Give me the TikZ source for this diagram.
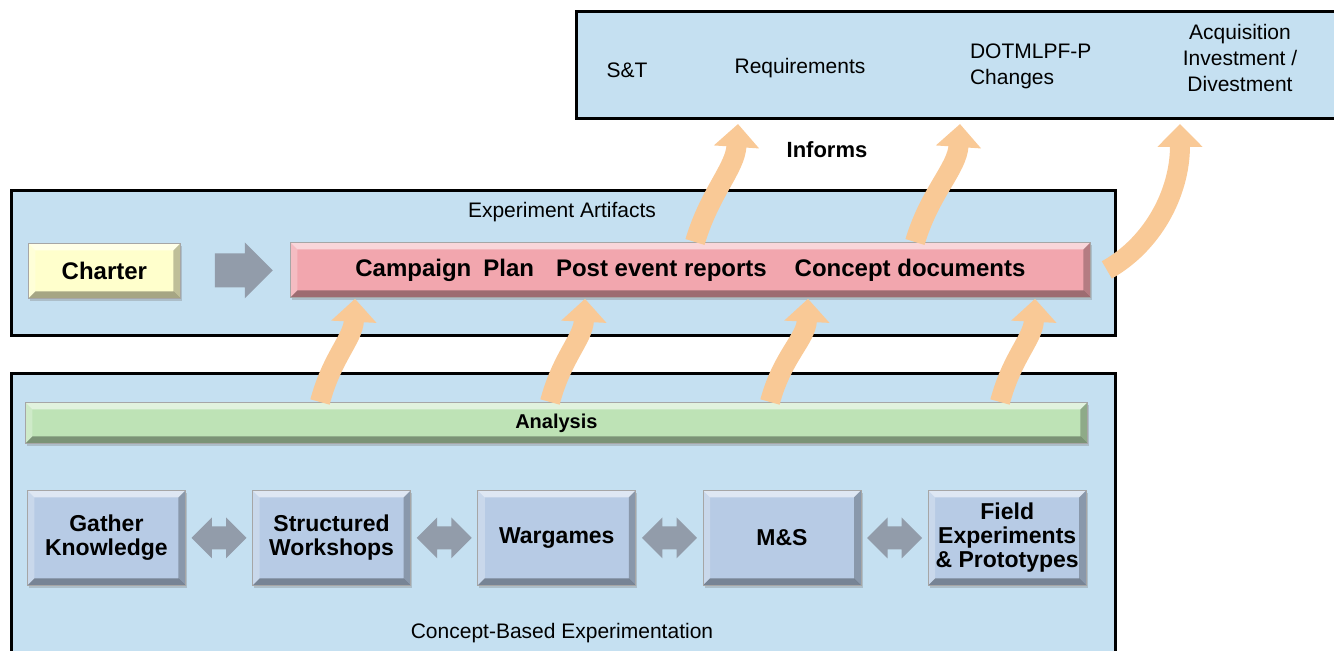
\documentclass[tikz,border=0pt]{standalone}
\usepackage{fontspec}
\setmainfont{Liberation Sans}
\usetikzlibrary{arrows.meta,calc,shapes.arrows,shadows}

\definecolor{skyfill}{RGB}{197,224,241}
\definecolor{procfill}{RGB}{183,203,229}
\definecolor{planfill}{RGB}{242,166,174}
\definecolor{analysisfill}{RGB}{190,227,182}
\definecolor{charterfill}{RGB}{255,255,204}
\definecolor{flowgray}{RGB}{146,156,170}
\definecolor{informfill}{RGB}{249,201,150}

\tikzset{
  outerbox/.style={draw=black, line width=1.5pt, fill=skyfill, inner sep=0pt, anchor=north west},
  bevel/.style={path picture={
    \path (path picture bounding box.north west) coordinate (bvnw)
          (path picture bounding box.north east) coordinate (bvne)
          (path picture bounding box.south west) coordinate (bvsw)
          (path picture bounding box.south east) coordinate (bvse);
    \fill[white, opacity=.55] (bvnw) -- (bvne) -- ([shift={(-#1,-#1)}]bvne) -- ([shift={(#1,-#1)}]bvnw) -- cycle;
    \fill[white, opacity=.25] (bvnw) -- (bvsw) -- ([shift={(#1,#1)}]bvsw) -- ([shift={(#1,-#1)}]bvnw) -- cycle;
    \fill[black, opacity=.25] (bvne) -- (bvse) -- ([shift={(-#1,#1)}]bvse) -- ([shift={(-#1,-#1)}]bvne) -- cycle;
    \fill[black, opacity=.35] (bvsw) -- (bvse) -- ([shift={(-#1,#1)}]bvse) -- ([shift={(#1,#1)}]bvsw) -- cycle;
  }},
  barbox/.style={bevel=3.5pt, draw=black!35, line width=.4pt, inner sep=0pt, anchor=north west,
    drop shadow={shadow xshift=.8pt, shadow yshift=-1.2pt, opacity=.35}},
  procbox/.style={barbox, fill=procfill, minimum width=79pt, minimum height=47.5pt, align=center,
    font=\fontsize{11.5}{12}\selectfont\bfseries},
  frametext/.style={font=\fontsize{10.5}{13}\selectfont},
  grayarrow/.style={single arrow, fill=flowgray, draw=none, inner xsep=0pt, inner ysep=8.25pt,
    minimum height=29pt, single arrow head extend=5.5pt},
  dblarrow/.style={double arrow, fill=flowgray, draw=none, inner xsep=0pt, inner ysep=5.5pt,
    minimum height=27.5pt, double arrow head extend=4.5pt},
  informarrow/.style={draw=informfill, line width=10pt, -{Triangle[width=22pt,length=11.5pt]}}
}

\begin{document}
\begin{tikzpicture}[x=0.5pt, y=-0.5pt]
\useasboundingbox (0,0) rectangle (1334,651);
% frames
\node[outerbox, minimum width=385pt, minimum height=53.5pt] (impact) at (575,10) {};
\node[outerbox, minimum width=552pt, minimum height=72.5pt] (artifacts) at (10,189) {};
\node[outerbox, minimum width=552pt, minimum height=146.5pt] (cbe) at (10,372) {};
% what is informed
\node[frametext] (st) at (627,70) {S\&T};
\node[frametext] (req) at (800,68) {Requirements};
\node[frametext, align=left, anchor=west] (dot) at (963,66) {DOTMLPF-P\\Changes};
\node[frametext, align=center] (acq) at (1240,58) {Acquisition\\Investment /\\Divestment};
\node[frametext, font=\fontsize{11}{13}\selectfont\bfseries] (informs) at (827,150) {Informs};
% artifacts
\node[frametext] (arttitle) at (562,212) {Experiment Artifacts};
\node[barbox, fill=charterfill, minimum width=76pt, minimum height=27.5pt,
  font=\fontsize{12}{14}\selectfont\bfseries] (charter) at (28,243) {Charter};
\node[barbox, fill=planfill, minimum width=400pt, minimum height=27.5pt,
  font=\fontsize{12}{14}\selectfont\bfseries] (products) at (290,242)
  {Campaign\hspace{6pt}Plan\hspace{11pt}Post event reports\hspace{14pt}Concept documents};
\node[grayarrow] (flow) at ($(charter.east)!0.5!(products.west)$) {};
% experimentation
\node[barbox, fill=analysisfill, minimum width=531pt, minimum height=20.5pt,
  font=\fontsize{10}{12}\selectfont\bfseries] (analysis) at (25,402) {Analysis};
\foreach \lbl [count=\i] in {{Gather\\Knowledge}, {Structured\\Workshops}, Wargames, M\&S, {Field\\Experiments\\\& Prototypes}}
  \node[procbox] (p\i) at (27+225.2*\i-225.2, 490) {\lbl};
\foreach \i/\j in {1/2,2/3,3/4,4/5}
  \node[dblarrow] (link\i) at ($(p\i.east)!0.5!(p\j.west)$) {};
\node[frametext] (cbetitle) at (562,633) {Concept-Based Experimentation};
% informs arrows
\foreach \a/\b in {295/65,525/295,745/518,975/745}
  \draw[informarrow] ($(analysis.north west)+(\a,0)$) .. controls +(12,-45) and +(-2,40) .. ($(products.south west)+(\b,1)$);
\foreach \a/\b in {405/163,625/385}
  \draw[informarrow] ($(products.north west)+(\a,0)$) .. controls +(15,-50) and +(-3,45) .. ($(impact.south west)+(\b,4)$);
\draw[informarrow] ($(products.east)+(16,0)$) .. controls +(45,-25) and +(0,70) .. ($(impact.south west)+(605,4)$);
\end{tikzpicture}
\end{document}
